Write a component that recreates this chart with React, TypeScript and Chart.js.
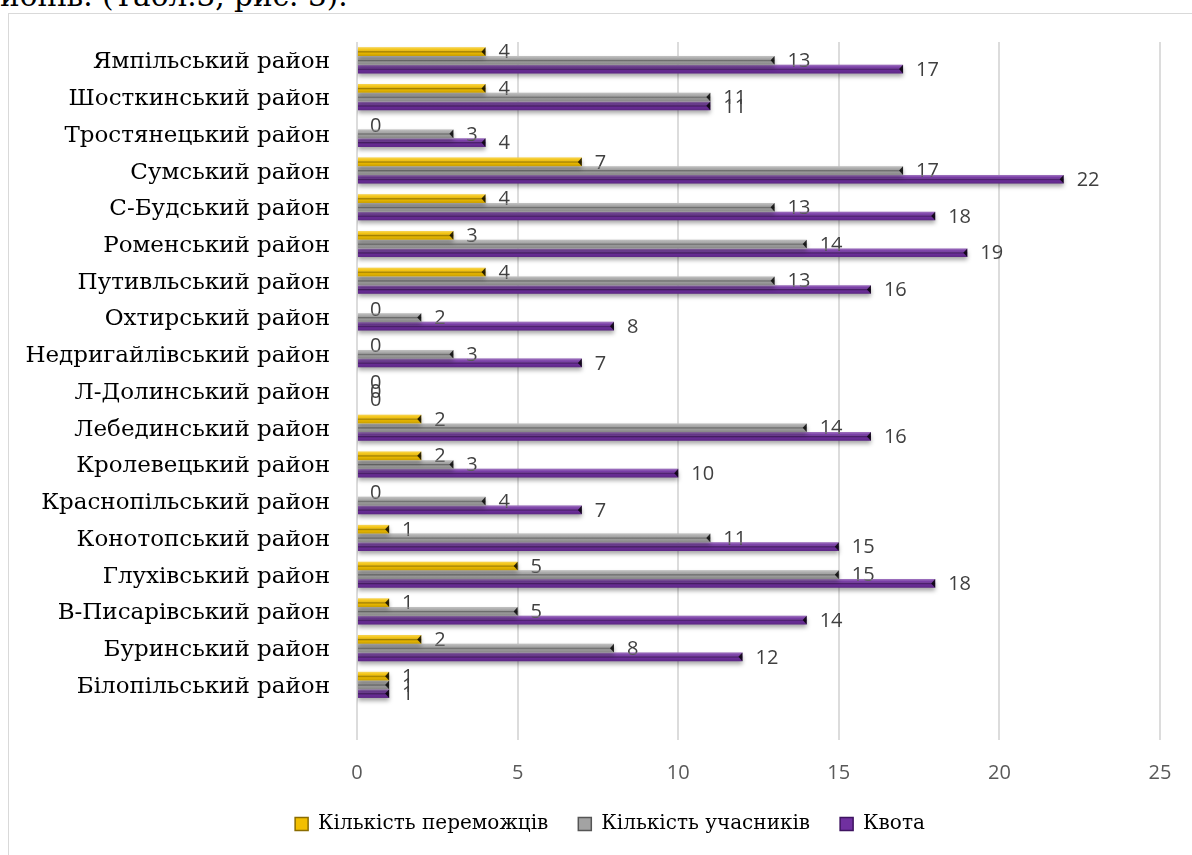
import React, { useEffect, useRef } from 'react';
import { Chart, registerables } from 'chart.js';

Chart.register(...registerables);

// Categories listed top to bottom as shown; the last row is an empty category
const categories = [
  'Ямпільський район',
  'Шосткинський район',
  'Тростянецький район',
  'Сумський район',
  'С-Будський район',
  'Роменський район',
  'Путивльський район',
  'Охтирський район',
  'Недригайлівський район',
  'Л-Долинський район',
  'Лебединський район',
  'Кролевецький район',
  'Краснопільський район',
  'Конотопський район',
  'Глухівський район',
  'В-Писарівський район',
  'Буринський район',
  'Білопільський район',
  '',
];

const winners = [4, 4, 0, 7, 4, 3, 4, 0, 0, 0, 2, 2, 0, 1, 5, 1, 2, 1, null];
const participants = [13, 11, 3, 17, 13, 14, 13, 2, 3, 0, 14, 3, 4, 11, 15, 5, 8, 1, null];
const quota = [17, 11, 4, 22, 18, 19, 16, 8, 7, 0, 16, 10, 7, 15, 18, 14, 12, 1, null];

const seriesNames = ['Кількість переможців', 'Кількість учасників', 'Квота'];
const xTicks = [0, 5, 10, 15, 20, 25];

const seriesColors = ['#F2BF00', '#A3A3A3', '#7030A0'];
const seriesEdge = ['#8A6C00', '#555555', '#3E1360'];

const barStyle = {
  id: 'barStyle',
  beforeDatasetsDraw(chart: any) {
    const c = chart.ctx;
    c.save();
    c.shadowColor = 'rgba(0,0,0,0.35)';
    c.shadowBlur = 4;
    c.shadowOffsetY = 3;
  },
  afterDatasetsDraw(chart: any) {
    const c = chart.ctx;
    c.restore();
    chart.data.datasets.forEach((ds: any, di: number) => {
      const meta = chart.getDatasetMeta(di);
      meta.data.forEach((el: any, i: number) => {
        const v = ds.data[i];
        if (v === null || v === undefined) return;
        const { x, y, base, height } = el.getProps(['x', 'y', 'base', 'height'], true);
        const top = y - height / 2;
        if (x - base > 0.5) {
          const g = c.createLinearGradient(0, top, 0, top + height);
          g.addColorStop(0, 'rgba(255,255,255,0.35)');
          g.addColorStop(0.3, 'rgba(255,255,255,0.05)');
          g.addColorStop(0.5, 'rgba(0,0,0,0.35)');
          g.addColorStop(0.68, 'rgba(0,0,0,0.05)');
          g.addColorStop(1, 'rgba(0,0,0,0.18)');
          c.fillStyle = g;
          c.fillRect(base, top, x - base, height);
          c.beginPath();
          c.moveTo(x, top);
          c.lineTo(x, top + height);
          c.lineTo(x - 4, y);
          c.closePath();
          c.fillStyle = 'rgba(0,0,0,0.8)';
          c.fill();
        }
        c.font = '20px "Open Sans"';
        c.fillStyle = '#404040';
        c.textAlign = 'left';
        c.textBaseline = 'middle';
        c.fillText(String(v), x + 13, y + 1);
      });
    });
  },
};

export default function App() {
  const ref = useRef<HTMLCanvasElement | null>(null);

  useEffect(() => {
    if (!ref.current) return;
    const series = [winners, participants, quota];
    const chart = new Chart(ref.current, {
      type: 'bar',
      data: {
        labels: categories,
        datasets: series.map((d, i) => ({
          label: seriesNames[i],
          data: d,
          backgroundColor: seriesColors[i],
          borderWidth: 0,
          categoryPercentage: 0.71,
          barPercentage: 1,
        })),
      },
      options: {
        indexAxis: 'y',
        animation: false,
        responsive: true,
        maintainAspectRatio: false,
        layout: { padding: { left: 0, right: 0, top: 42, bottom: 11 } },
        scales: {
          x: {
            min: 0,
            max: 25,
            afterBuildTicks: (scale: any) => {
              scale.ticks = xTicks.map((v) => ({ value: v }));
            },
            afterFit: (scale: any) => {
              scale.height = 44;
            },
            grid: { color: '#DCDCDC', lineWidth: 2, drawTicks: false },
            border: { display: false },
            ticks: {
              padding: 21,
              color: '#595959',
              font: { family: '"Open Sans"', size: 20 },
            },
          },
          y: {
            afterFit: (scale: any) => {
              scale.width = 357;
            },
            grid: { display: false, drawTicks: false },
            border: { display: false },
            ticks: {
              padding: 27,
              labelOffset: 2,
              color: '#000000',
              autoSkip: false,
              font: { family: '"DejaVu Serif"', size: 23 },
            },
          },
          yPad: {
            type: 'linear',
            position: 'right',
            axis: 'y',
            afterFit: (scale: any) => {
              scale.width = 60;
            },
            grid: { display: false, drawTicks: false },
            border: { display: false },
            ticks: { display: false },
          },
        },
        plugins: {
          legend: {
            position: 'bottom',
            labels: {
              boxWidth: 13,
              boxHeight: 13,
              padding: 30,
              color: '#000000',
              font: { family: '"DejaVu Serif"', size: 20 },
              generateLabels: (ch: any) =>
                ch.data.datasets.map((ds: any, i: number) => ({
                  text: ds.label,
                  fillStyle: seriesColors[i],
                  strokeStyle: seriesEdge[i],
                  lineWidth: 1.5,
                  hidden: false,
                  datasetIndex: i,
                  fontColor: '#000000',
                })),
            },
          },
          tooltip: { enabled: false },
        },
      },
      plugins: [barStyle],
    });
    return () => chart.destroy();
  }, []);

  return (
    <div
      style={{
        position: 'absolute',
        left: 0,
        top: 0,
        width: 1192,
        height: 855,
        overflow: 'hidden',
        background: '#ffffff',
      }}
    >
      <div
        style={{
          position: 'absolute',
          left: 0,
          top: -18,
          fontFamily: '"DejaVu Serif"',
          fontSize: 29.5,
          lineHeight: 1,
          whiteSpace: 'nowrap',
          color: '#000000',
        }}
      >
        йонів. (Табл.3, рис. 3).
      </div>
      <div
        style={{
          position: 'absolute',
          left: 8,
          top: 13,
          width: 1400,
          height: 1000,
          border: '1.5px solid #D9D9D9',
        }}
      />
      <div style={{ position: 'absolute', left: 0, top: 0, width: 1220, height: 855 }}>
        <canvas ref={ref} />
      </div>
    </div>
  );
}
